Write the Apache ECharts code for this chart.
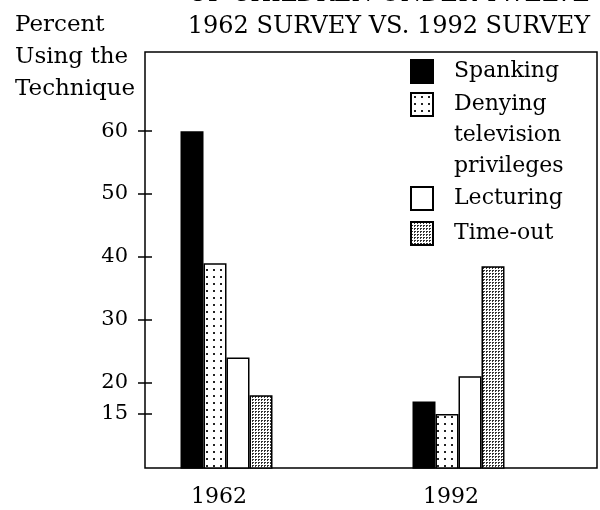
<!DOCTYPE html>
<html><head><meta charset="utf-8">
<script src="https://cdn.jsdelivr.net/npm/echarts@6/dist/echarts.min.js"></script>
<style>html,body{margin:0;padding:0;background:#fff}#c{width:600px;height:510px}</style>
</head><body><div id="c"></div>
<script>
// ---- data ----
const years = [1962, 1992];
const spanking = [60, 17];
const denying = [39, 15];
const lecturing = [24, 21];
const timeOut = [18, 38.5];
const yTickValues = [15, 20, 30, 40, 50, 60];
const xTickValues = [1962, 1992];
const seriesNames = ['Spanking', 'Denying television privileges', 'Lecturing', 'Time-out'];
const titleLines = ['OF CHILDREN UNDER TWELVE', '1962 SURVEY VS. 1992 SURVEY'];
const yNameLines = ['Percent', 'Using the', 'Technique'];

const FONT = 'DejaVu Serif';

function makePattern(size, dots, ink) {
  const c = document.createElement('canvas');
  c.width = size; c.height = size;
  const g = c.getContext('2d');
  g.fillStyle = '#fff'; g.fillRect(0, 0, size, size);
  g.fillStyle = ink;
  dots.forEach(d => g.fillRect(d[0], d[1], d[2], d[3]));
  return c;
}
const sparseDots = { image: makePattern(7, [[3, 3, 2, 2]], '#222'), repeat: 'repeat' };
const denseDots = { image: makePattern(3, [[0, 0, 1, 1], [1, 0, 1, 1], [0, 1, 1, 1]], '#333'), repeat: 'repeat' };

function bar(name, vals, color) {
  return {
    type: 'bar', name: name,
    data: years.map((y, i) => [y, vals[i]]),
    barWidth: 23, barGap: '0%',
    itemStyle: { color: color, borderColor: '#000', borderWidth: 1.5 },
    emphasis: { disabled: true }, silent: true
  };
}

const legendText = { fontFamily: FONT, fontSize: 22, color: '#000', lineHeight: 23, padding: [0, 0, 0, 16] };

const chart = echarts.init(document.getElementById('c'), null, { renderer: 'canvas' });
chart.setOption({
  animation: false,
  backgroundColor: '#fff',
  title: [
    { text: titleLines.join('\n'), left: 389, top: -21, padding: 0, textAlign: 'center',
      textStyle: { fontFamily: FONT, fontSize: 24, fontWeight: 'normal', color: '#000', lineHeight: 32 } },
    { text: yNameLines.join('\n'), left: 15, top: 9, padding: 0, textAlign: 'left',
      textStyle: { fontFamily: FONT, fontSize: 23, fontWeight: 'normal', color: '#000', lineHeight: 32 } }
  ],
  legend: [
    { data: [seriesNames[0]], orient: 'vertical', left: 410, top: 59, padding: 0,
      itemWidth: 22, itemHeight: 23, icon: 'rect', selectedMode: false, textStyle: legendText },
    { data: [seriesNames[1]], orient: 'vertical', left: 410, top: 27, padding: 0,
      itemWidth: 22, itemHeight: 23, icon: 'rect', selectedMode: false,
      formatter: n => '\n\n' + n.replace(/ /g, '\n'),
      textStyle: Object.assign({}, legendText, { lineHeight: 31 }) },
    { data: [seriesNames[2], seriesNames[3]], orient: 'vertical', left: 410, top: 186, padding: 0,
      itemWidth: 22, itemHeight: 23, itemGap: 10, icon: 'rect', selectedMode: false, textStyle: legendText }
  ],
  grid: { left: 145, right: 3, top: 52, bottom: 42, show: true, borderColor: '#000', borderWidth: 1.5,
    backgroundColor: 'transparent', outerBoundsMode: 'none' },
  xAxis: {
    type: 'value', min: 1951.46, max: 2009.91,
    axisLine: { show: false }, axisTick: { show: false }, splitLine: { show: false },
    axisLabel: { customValues: xTickValues, formatter: v => String(v), margin: 18,
      fontFamily: FONT, fontSize: 22, color: '#000', padding: [0, 15, 0, 0] }
  },
  yAxis: [
    { type: 'value', min: 6.41, max: 72.6, position: 'left',
      axisLine: { show: false }, splitLine: { show: false },
      axisTick: { show: true, inside: false, length: 7, customValues: yTickValues, lineStyle: { color: '#000', width: 1.5 } },
      axisLabel: { customValues: yTickValues, margin: 17, fontFamily: FONT, fontSize: 21, color: '#000' } },
    { type: 'value', min: 6.41, max: 72.6, position: 'left', offset: 0,
      axisLine: { show: false }, splitLine: { show: false },
      axisTick: { show: true, inside: true, length: 7, customValues: yTickValues, lineStyle: { color: '#000', width: 1.5 } },
      axisLabel: { show: false } }
  ],
  series: [
    bar(seriesNames[0], spanking, '#000'),
    bar(seriesNames[1], denying, sparseDots),
    bar(seriesNames[2], lecturing, '#fff'),
    bar(seriesNames[3], timeOut, denseDots)
  ]
});
</script></body></html>
